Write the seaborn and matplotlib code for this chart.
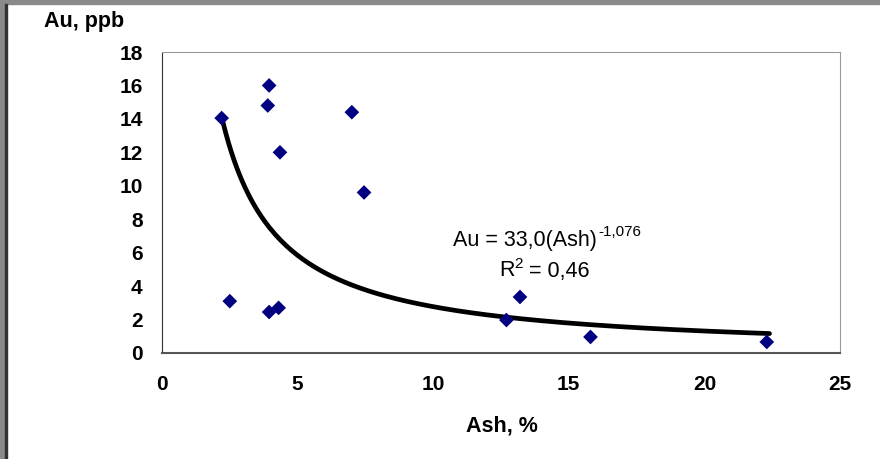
import numpy as np
import pandas as pd
import matplotlib.pyplot as plt
import matplotlib.patches as mpatches
import seaborn as sns

# Ash content vs Au
ash = [2.2, 2.5, 3.95, 3.9, 4.35, 3.95, 4.3, 7.0, 7.45, 12.7, 13.2, 15.8, 22.3]
au = [14.05, 3.1, 16.0, 14.8, 12.0, 2.45, 2.7, 14.4, 9.6, 1.97, 3.35, 0.96, 0.66]

# power trend from the chart label
coef_a = 33.0
coef_b = -1.076

x_ticks = [0, 5, 10, 15, 20, 25]
y_ticks = [0, 2, 4, 6, 8, 10, 12, 14, 16, 18]

df = pd.DataFrame({"Ash": ash, "Au": au})

sns.set_style("white")
plt.rcParams["font.family"] = ["Liberation Sans", "DejaVu Sans"]
plt.rcParams["text.color"] = "black"

fig = plt.figure(figsize=(8.8, 4.59), dpi=100)
ax = fig.add_axes([162 / 880, 1 - 353 / 459, (840 - 162) / 880, (353 - 52) / 459])

xs = np.linspace(min(ash) + 0.05, max(ash) + 0.1, 200)
trend = pd.DataFrame({"Ash": xs, "Au": coef_a * xs ** coef_b})
sns.lineplot(data=trend, x="Ash", y="Au", ax=ax, color="black", linewidth=3.4, zorder=2)
sns.scatterplot(data=df, x="Ash", y="Au", ax=ax, marker="D", s=56, color="#000080",
                edgecolor="none", zorder=3)

ax.set_xlim(0, 25)
ax.set_ylim(0, 18)
ax.set_xticks(x_ticks)
ax.set_yticks(y_ticks)
ax.tick_params(axis="both", direction="out", length=5, width=1, color="#555555",
               labelsize=15, labelcolor="black")
for lab in ax.get_xticklabels() + ax.get_yticklabels():
    lab.set_fontweight("bold")
ax.tick_params(axis="x", pad=11)
ax.tick_params(axis="y", pad=9)

ax.spines["left"].set_color("#333333")
ax.spines["bottom"].set_color("#555555")
ax.spines["bottom"].set_linewidth(1.5)
ax.spines["top"].set_color("#999999")
ax.spines["right"].set_color("#999999")
for sp in ax.spines.values():
    sp.set_visible(True)

ax.set_xlabel("")
ax.set_ylabel("")
fig.text(502 / 880, 1 - 426 / 459, "Ash, %", ha="center", va="center",
         fontsize=15.5, fontweight="bold")
fig.text(44 / 880, 1 - 22 / 459, "Au, ppb", ha="left", va="center",
         fontsize=15.5, fontweight="bold")

# trend equation with superscripts as separate texts
eq = fig.text(453 / 880, 1 - 241 / 459, "Au = 33,0(Ash)", ha="left", va="center",
              fontsize=15.5)
r2 = fig.text(499 / 880, 1 - 271 / 459, "R", ha="left", va="center", fontsize=15.5)
fig.canvas.draw()
rend = fig.canvas.get_renderer()
bb = eq.get_window_extent(rend)
fig.text((bb.x1 + 1) / 880, 1 - 232 / 459, "-1,076", ha="left", va="center", fontsize=11)
bb2 = r2.get_window_extent(rend)
sup = fig.text(bb2.x1 / 880, 1 - 264 / 459, "2", ha="left", va="center", fontsize=11)
fig.canvas.draw()
bb3 = sup.get_window_extent(rend)
fig.text(bb3.x1 / 880, 1 - 271 / 459, " = 0,46", ha="left", va="center", fontsize=15.5)

# window frame
fig.patches.append(mpatches.Rectangle((0, 1 - 4 / 459), 1, 4 / 459, transform=fig.transFigure,
                                      color="#8a8a8a", zorder=10))
fig.patches.append(mpatches.Rectangle((0, 0), 5 / 880, 1, transform=fig.transFigure,
                                      color="#8a8a8a", zorder=10))
fig.patches.append(mpatches.Rectangle((5 / 880, 0), 2 / 880, 1 - 4 / 459, transform=fig.transFigure,
                                      color="#333333", zorder=10))

fig.savefig("out.png", dpi=100)
